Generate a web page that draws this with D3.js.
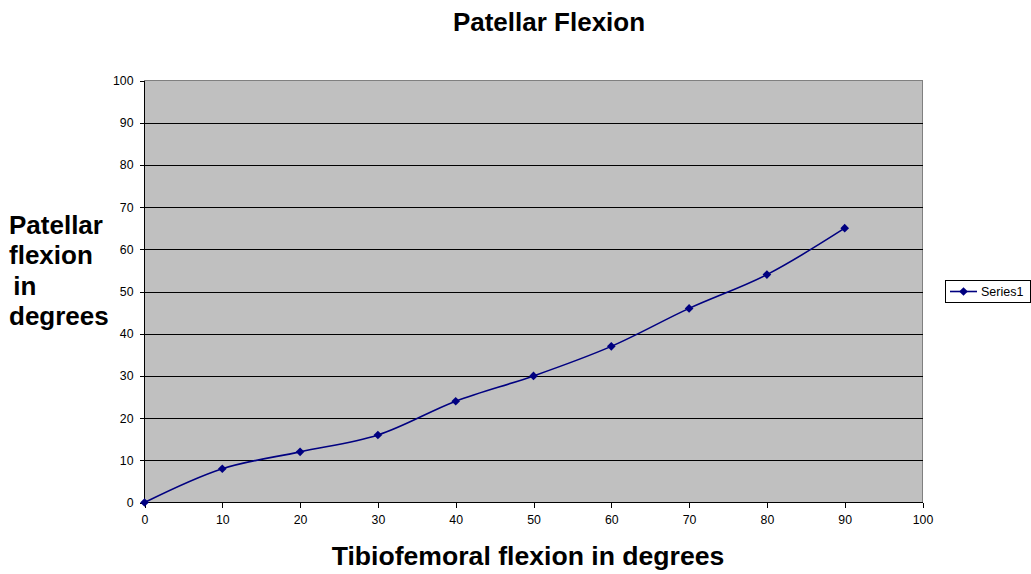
<!DOCTYPE html>
<html>
<head>
<meta charset="utf-8">
<script src="https://cdn.jsdelivr.net/npm/d3@7"></script>
<style>
  html, body { margin: 0; padding: 0; background: #fff; }
  svg { display: block; font-family: "Liberation Sans", Arial, sans-serif; }
</style>
</head>
<body>
<svg id="chart" width="1031" height="574"></svg>
<script>
// ---- data ----
const tibiofemoral = [0, 10, 20, 30, 40, 50, 60, 70, 80, 90];
const patellar = [0, 8, 12, 16, 24, 30, 37, 46, 54, 65];
const xTickValues = [0, 10, 20, 30, 40, 50, 60, 70, 80, 90, 100];
const yTickValues = [0, 10, 20, 30, 40, 50, 60, 70, 80, 90, 100];
const chartTitle = "Patellar Flexion";
const xTitle = "Tibiofemoral flexion in degrees";
const yTitleLines = ["Patellar", "flexion", " in", "degrees"];
const seriesName = "Series1";

// ---- layout ----
const svg = d3.select("#chart");
const plot = { left: 144.5, right: 922.5, top: 80.5, bottom: 502.5 };

const x = d3.scaleLinear().domain([0, 100]).range([plot.left, plot.right]);
const y = d3.scaleLinear().domain([0, 100]).range([plot.bottom, plot.top]);

// plot background
svg.append("rect")
  .attr("x", plot.left).attr("y", plot.top)
  .attr("width", plot.right - plot.left).attr("height", plot.bottom - plot.top)
  .attr("fill", "#C0C0C0").attr("stroke", "#808080").attr("stroke-width", 1)
  .attr("shape-rendering", "crispEdges");

// gridlines
svg.append("g").selectAll("line")
  .data(yTickValues.filter(d => d > 0 && d < 100))
  .join("line")
  .attr("x1", plot.left).attr("x2", plot.right)
  .attr("y1", d => Math.round(y(d)) + 0.5).attr("y2", d => Math.round(y(d)) + 0.5)
  .attr("stroke", "#000").attr("stroke-width", 1)
  .attr("shape-rendering", "crispEdges");

// axes
const yAxis = d3.axisLeft(y).tickValues(yTickValues).tickSize(5).tickPadding(6).tickFormat(d3.format("d"));
const xAxis = d3.axisBottom(x).tickValues(xTickValues).tickSize(5).tickPadding(8).tickFormat(d3.format("d"));

const gy = svg.append("g").attr("transform", `translate(${plot.left},0)`).call(yAxis);
const gx = svg.append("g").attr("transform", `translate(0,${plot.bottom})`).call(xAxis);
[gx, gy].forEach(g => {
  g.selectAll("path, line").attr("stroke", "#000").attr("shape-rendering", "crispEdges");
  g.selectAll("text").attr("font-size", 12.3).attr("fill", "#000")
    .attr("font-family", "'Liberation Sans', Arial, sans-serif");
});
gy.select(".domain").attr("d", `M0,${plot.bottom}V${plot.top}`);
gx.select(".domain").attr("d", `M${plot.left},0H${plot.right}`);

// line
const pts = tibiofemoral.map((d, i) => [x(d), y(patellar[i])]);
const line = d3.line().curve(d3.curveCatmullRom.alpha(0.5));
svg.append("path")
  .attr("d", line(pts))
  .attr("fill", "none").attr("stroke", "#000080").attr("stroke-width", 1.6);

// markers
const diamond = d3.symbol().type(d3.symbolDiamond2).size(48);
svg.append("g").selectAll("path")
  .data(pts).join("path")
  .attr("transform", d => `translate(${d[0]},${d[1]})`)
  .attr("d", diamond)
  .attr("fill", "#000080");

// titles
svg.append("text")
  .attr("x", 549).attr("y", 31)
  .attr("text-anchor", "middle")
  .attr("font-size", 26).attr("font-weight", "bold")
  .text(chartTitle);

svg.append("text")
  .attr("x", 528).attr("y", 565)
  .attr("text-anchor", "middle")
  .attr("font-size", 26.6).attr("font-weight", "bold")
  .text(xTitle);

const yt = svg.append("text")
  .attr("font-size", 26).attr("font-weight", "bold")
  .attr("xml:space", "preserve");
yTitleLines.forEach((t, i) => {
  yt.append("tspan")
    .attr("x", t.startsWith(" ") ? 6 : 9)
    .attr("y", 234 + i * 30.3)
    .text(t);
});

// legend
const lg = svg.append("g");
lg.append("rect")
  .attr("x", 945.5).attr("y", 280.5).attr("width", 85).attr("height", 22)
  .attr("fill", "#fff").attr("stroke", "#000").attr("stroke-width", 1)
  .attr("shape-rendering", "crispEdges");
lg.append("line")
  .attr("x1", 950).attr("x2", 977).attr("y1", 291.5).attr("y2", 291.5)
  .attr("stroke", "#000080").attr("stroke-width", 1.6);
lg.append("path")
  .attr("transform", "translate(963.5,291.5)")
  .attr("d", diamond).attr("fill", "#000080");
lg.append("text")
  .attr("x", 981).attr("y", 296)
  .attr("font-size", 12.5)
  .text(seriesName);
</script>
</body>
</html>
